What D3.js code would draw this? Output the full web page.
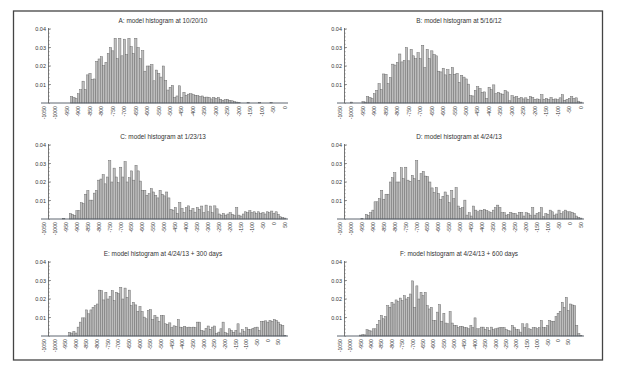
<!DOCTYPE html>
<html>
<head>
<meta charset="utf-8">
<script src="https://cdn.jsdelivr.net/npm/d3@7/dist/d3.min.js"></script>
<style>
body { margin: 0; background: #fff; }
text { font-family: "Liberation Sans", Arial, sans-serif; fill: #333; }
</style>
</head>
<body>
<div></div>
<script>
// histogram values, one bar per 10-unit bin starting at -1050
var histA = [0,0,0,0,0,0,0,0,0,0,0,0,
  0.0035,0.0030,0.0025,0.0050,0.0072,0.0118,0.0073,0.0152,0.0160,0.0128,
  0.0130,0.0225,0.0238,0.0250,0.0202,0.0220,0.0268,0.0300,0.0282,0.0350,
  0.0240,0.0350,0.0255,0.0345,0.0262,0.0350,0.0305,0.0268,0.0350,0.0300,
  0.0240,0.0283,0.0172,0.0200,0.0200,0.0208,0.0120,0.0178,0.0160,0.0140,
  0.0200,0.0122,0.0070,0.0085,0.0095,0.0030,0.0038,0.0093,0.0030,0.0058,
  0.0042,0.0048,0.0050,0.0045,
  0.0042,0.0040,0.0035,0.0038,0.0030,0.0032,0.0030,0.0022,0.0030,0.0025,
  0.0030,0.0020,0.0015,0.0018,0.0020,0.0015,0.0012,0.0008,0.0005,0.0003,
  0,0,0,0.0003,0,0,0,0,0.0003,0,0,0,0,0.0003,0,0,0,0,0,0];

var histB = [0,0,0,0,0,0.0005,0,0,0,0,0.0008,0.0005,
  0.0035,0.0030,0.0025,0.0050,0.0068,0.0105,0.0073,0.0157,0.0155,0.0105,
  0.0138,0.0210,0.0205,0.0220,0.0265,0.0222,0.0230,0.0300,0.0228,0.0290,
  0.0255,0.0240,0.0272,0.0240,0.0312,0.0192,0.0290,0.0240,0.0282,0.0262,
  0.0255,0.0172,0.0168,0.0188,0.0152,0.0180,0.0155,0.0192,0.0155,0.0160,
  0.0112,0.0150,0.0140,0.0130,0.0102,0.0040,0.0038,0.0068,0.0088,0.0078,
  0.0058,0.0060,0.0025,0.0085,0.0072,0.0098,0.0050,0.0058,0.0050,0.0048,
  0.0068,0.0060,0.0012,0.0040,0.0032,0.0035,0.0025,0.0030,0.0022,0.0028,
  0.0020,0.0035,0.0030,0.0020,0.0022,0.0018,0.0045,0.0020,0.0025,0.0018,
  0.0030,0.0020,0.0022,0.0018,0.0028,
  0.0045,0.0015,0.0020,0.0025,0.0035,0.0025,0.0028,0.0010,0.0005];

var histC = [0,0,0,0,0,0,0,0,0,0.0004,0,0,
  0.0030,0.0025,0.0020,0.0045,0.0045,0.0088,0.0084,0.0134,0.0154,0.0102,
  0.0102,0.0140,0.0155,0.0210,0.0216,0.0240,0.0190,0.0227,0.0316,0.0200,
  0.0275,0.0227,0.0196,0.0280,0.0227,0.0310,0.0200,0.0223,0.0260,0.0210,
  0.0290,0.0260,0.0205,0.0155,0.0155,0.0128,0.0137,0.0164,0.0146,0.0128,
  0.0114,0.0155,0.0134,0.0125,0.0146,0.0114,0.0052,0.0048,0.0062,0.0030,
  0.0089,0.0057,0.0034,0.0062,0.0071,0.0045,0.0057,0.0037,0.0062,0.0052,
  0.0070,0.0034,0.0075,0.0039,0.0070,0.0034,0.0071,0.0055,0.0027,0.0021,
  0.0030,0.0021,0.0027,0.0034,0.0025,0.0021,0.0062,0.0021,0.0016,0.0027,
  0.0039,0.0034,0.0045,0.0034,0.0039,0.0030,0.0039,0.0030,0.0034,0.0027,
  0.0039,0.0034,0.0043,0.0030,0.0039,0.0025,0.0012,0.0008,0.0005];

var histD = [0,0,0,0,0,0,0,0,0,0,0.0004,0,
  0.0025,0.0020,0.0034,0.0048,0.0093,0.0093,0.0110,0.0155,0.0107,0.0134,
  0.0134,0.0200,0.0223,0.0250,0.0200,0.0200,0.0277,0.0218,0.0280,0.0210,
  0.0204,0.0236,0.0218,0.0316,0.0209,0.0245,0.0257,0.0232,0.0230,0.0200,
  0.0168,0.0143,0.0170,0.0138,0.0105,0.0123,0.0146,0.0129,0.0088,0.0155,
  0.0110,0.0170,0.0070,0.0057,0.0062,0.0102,0.0021,0.0034,0.0016,0.0070,
  0.0048,0.0039,0.0048,0.0045,0.0052,0.0045,0.0039,0.0034,0.0048,0.0062,
  0.0075,0.0062,0.0034,0.0034,0.0021,0.0025,0.0036,0.0030,0.0029,0.0021,
  0.0036,0.0036,0.0016,0.0034,0.0030,0.0021,0.0062,0.0021,0.0030,0.0034,
  0.0062,0.0012,0.0030,0.0025,0.0048,0.0039,0.0021,0.0027,0.0048,0.0030,
  0.0039,0.0048,0.0039,0.0039,0.0036,0.0030,0.0016,0.0009,0.0005];

var histE = [0,0,0,0,0,0,0,0,0,0,0,0,
  0.0020,0.0016,0.0025,0.0016,0.0048,0.0075,0.0098,0.0098,0.0141,0.0120,
  0.0141,0.0155,0.0164,0.0173,0.0248,0.0245,0.0195,0.0236,0.0200,0.0213,
  0.0245,0.0191,0.0236,0.0230,0.0263,0.0200,0.0259,0.0209,0.0248,0.0164,
  0.0182,0.0168,0.0134,0.0159,0.0132,0.0102,0.0093,0.0138,0.0143,0.0089,
  0.0111,0.0102,0.0079,0.0111,0.0111,0.0066,0.0063,0.0071,0.0045,0.0055,
  0.0052,0.0089,0.0048,0.0045,0.0052,0.0045,0.0048,0.0045,0.0048,0.0045,
  0.0075,0.0075,0.0030,0.0027,0.0041,0.0054,0.0036,0.0048,0.0054,0.0013,
  0.0021,0.0039,0.0075,0.0018,0.0013,0.0039,0.0030,0.0020,0.0030,0.0066,
  0.0016,0.0034,0.0023,0.0045,0.0036,0.0034,0.0041,0.0045,0.0048,0.0030,
  0.0079,0.0080,0.0082,0.0075,0.0084,0.0079,0.0089,0.0084,0.0075,0.0061,
  0.0057,0.0004];

var histF = [0,0,0,0,0,0,0,0,0,0,0.0005,0.0007,0.0006,
  0.0034,0.0030,0.0027,0.0039,0.0039,0.0063,0.0084,0.0111,0.0093,0.0105,
  0.0164,0.0155,0.0182,0.0173,0.0195,0.0186,0.0205,0.0191,0.0218,0.0200,
  0.0209,0.0227,0.0298,0.0155,0.0271,0.0200,0.0236,0.0218,0.0236,0.0164,
  0.0146,0.0155,0.0084,0.0084,0.0129,0.0170,0.0080,0.0123,0.0070,0.0066,
  0.0132,0.0070,0.0057,0.0057,0.0045,0.0052,0.0052,0.0045,0.0045,0.0039,
  0.0057,0.0045,0.0098,0.0039,0.0039,0.0048,0.0048,0.0036,0.0045,0.0030,
  0.0048,0.0034,0.0039,0.0043,0.0045,0.0045,0.0045,0.0034,0.0030,0.0027,
  0.0057,0.0045,0.0034,0.0034,0.0021,0.0066,0.0045,0.0066,0.0039,0.0034,
  0.0045,0.0045,0.0039,0.0045,0.0084,0.0045,0.0045,0.0057,0.0084,0.0080,
  0.0080,0.0105,0.0123,0.0134,0.0182,0.0155,0.0209,0.0138,0.0173,0.0168,
  0.0164,0.0057,0.0013,0.0004];

// labels sit under every 5th bar
var ticksToZero = ["-1050","-1000","-950","-900","-850","-800","-750","-700","-650","-600","-550",
  "-500","-450","-400","-350","-300","-250","-200","-150","-100","-50","0"];
var ticksToFifty = ticksToZero.concat(["50"]);

var titles = ["A: model histogram at 10/20/10", "B: model histogram at 5/16/12",
  "C: model histogram at 1/23/13", "D: model histogram at 4/24/13",
  "E: model histogram at 4/24/13 + 300 days", "F: model histogram at 4/24/13 + 600 days"];
var yTicks = [0.01, 0.02, 0.03, 0.04];

var panels = [
  {title: titles[0], values: histA, labels: ticksToZero},
  {title: titles[1], values: histB, labels: ticksToZero},
  {title: titles[2], values: histC, labels: ticksToFifty},
  {title: titles[3], values: histD, labels: ticksToFifty},
  {title: titles[4], values: histE, labels: ticksToFifty},
  {title: titles[5], values: histF, labels: ticksToFifty}
];

var width = 624,
    height = 371;
var colX = [43, 339],
    baseY = [103, 219, 336],
    plotW = 243,
    plotH = 74;

var svg = d3.select("div")
    .append("svg")
    .attr("width", width)
    .attr("height", height);

svg.append("rect")
    .attr("x", 13.5).attr("y", 11)
    .attr("width", 589).attr("height", 349)
    .attr("fill", "none")
    .attr("stroke", "#444")
    .attr("stroke-width", 1.3);

panels.forEach(function (p, k) {
    var x0 = colX[k % 2],
        y0 = baseY[Math.floor(k / 2)];

    var x = d3.scaleBand()
        .domain(d3.range(p.values.length))
        .range([x0, x0 + plotW]);
    var y = d3.scaleLinear()
        .domain([0, 0.04])
        .range([y0, y0 - plotH]);
    var axisX = x0 + 5.5;

    var g = svg.append("g");

    g.append("text")
        .attr("x", x0 + 120)
        .attr("y", y(0.04) - 6.5)
        .attr("text-anchor", "middle")
        .style("font-size", "6.4px")
        .text(p.title);

    g.selectAll("rect.bar")
        .data(p.values)
        .enter()
        .append("rect")
        .attr("class", "bar")
        .attr("x", function (d, i) { return x(i); })
        .attr("width", x.bandwidth())
        .attr("y", function (d) { return y(d); })
        .attr("height", function (d) { return y0 - y(d); })
        .attr("fill", "#bdbdbd")
        .attr("stroke", "#666")
        .attr("stroke-width", 0.45);

    // x axis line
    g.append("line")
        .attr("x1", x0 - 2).attr("x2", x0 + plotW + 2)
        .attr("y1", y0).attr("y2", y0)
        .attr("stroke", "#4c5660").attr("stroke-width", 0.9);

    // y axis with major and minor ticks
    var yAxis = d3.axisRight(y)
        .tickValues(d3.range(0, 0.0401, 0.002))
        .tickSize(1.2)
        .tickFormat("");
    g.append("g")
        .attr("transform", "translate(" + axisX + ",0)")
        .call(yAxis)
        .call(function (s) {
            s.select(".domain").attr("stroke", "#555").attr("stroke-width", 0.8)
                .attr("d", "M0," + y0 + "V" + (y(0.04) - 1));
            s.selectAll(".tick line").attr("stroke", "#555").attr("stroke-width", 0.5);
        });

    g.selectAll("line.major")
        .data(yTicks)
        .enter()
        .append("line")
        .attr("x1", axisX).attr("x2", axisX + 2.5)
        .attr("y1", function (d) { return y(d); })
        .attr("y2", function (d) { return y(d); })
        .attr("stroke", "#555").attr("stroke-width", 0.6);

    g.selectAll("text.ylab")
        .data(yTicks)
        .enter()
        .append("text")
        .attr("x", axisX - 2.5)
        .attr("y", function (d) { return y(d) + 2; })
        .attr("text-anchor", "end")
        .style("font-size", "5.5px")
        .text(function (d) { return d3.format(".2f")(d); });

    g.selectAll("text.xlab")
        .data(p.labels)
        .enter()
        .append("text")
        .attr("transform", function (d, i) {
            var cx = x(i * 5) + x.bandwidth() / 2 + 1.8;
            return "translate(" + cx + "," + (y0 + 3) + ") rotate(-90)";
        })
        .attr("text-anchor", "end")
        .style("font-size", "5.2px")
        .text(function (d) { return d; });
});
</script>
</body>
</html>
